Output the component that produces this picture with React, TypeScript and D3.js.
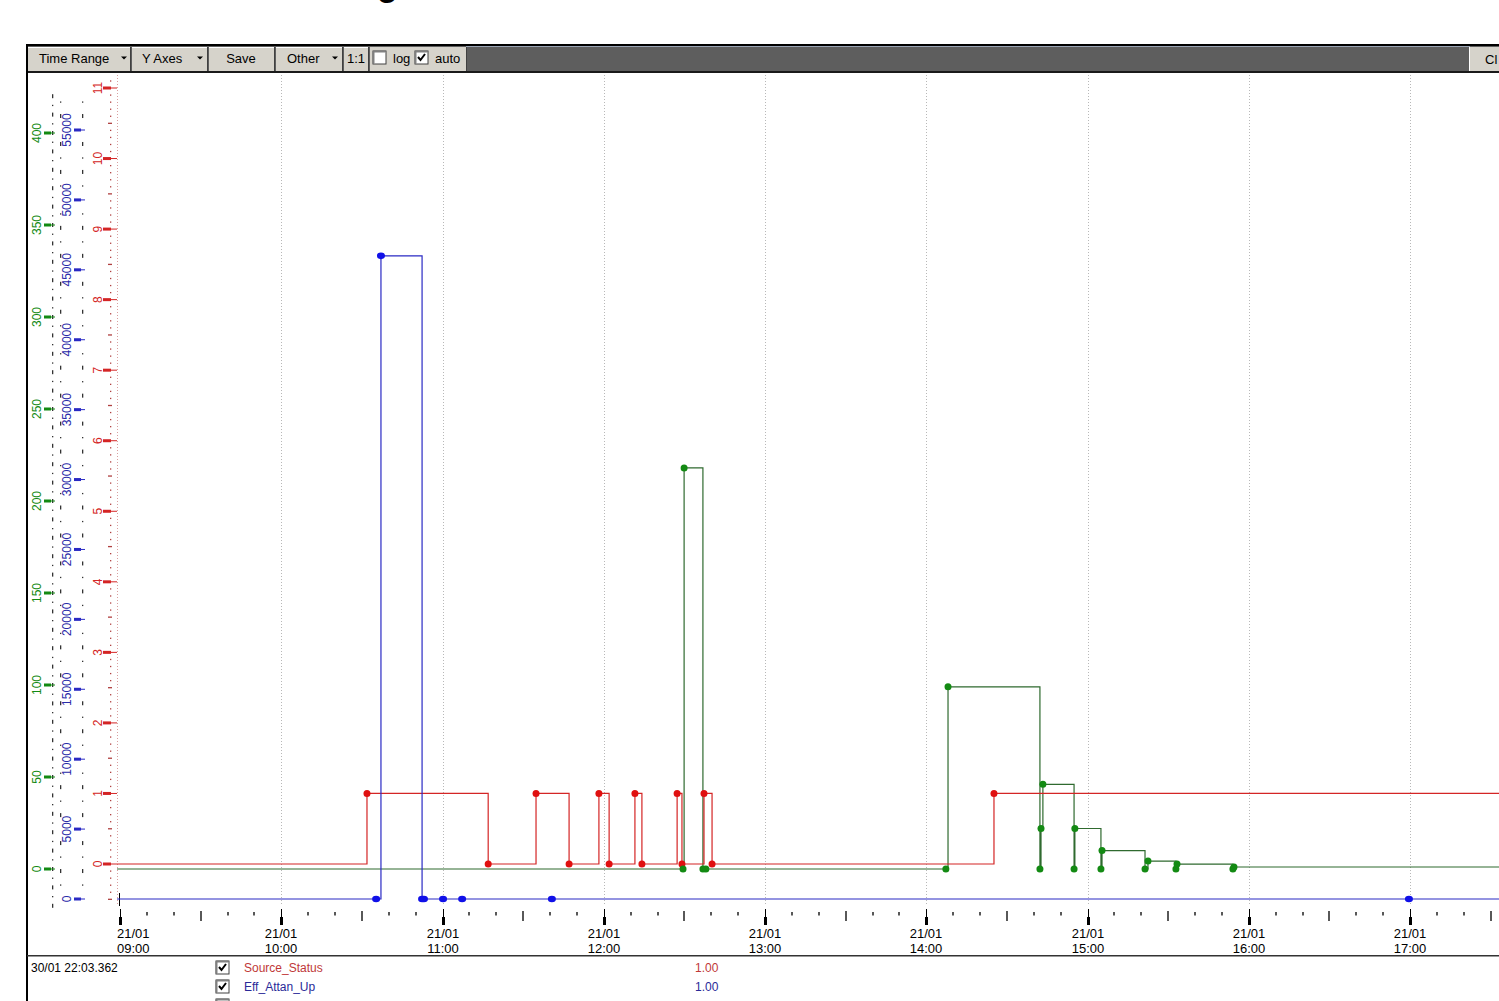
import React from 'react';
import * as d3 from 'd3';

const W = 1499;
const H = 1001;

// ---------- data ----------
const dateLabel = '21/01';
const hourTicks = ['09:00', '10:00', '11:00', '12:00', '13:00', '14:00', '15:00', '16:00', '17:00'];

const sourceStatusTimes = ['08:50:00', '10:31:54', '11:17:00', '11:34:48', '11:47:06', '11:58:12', '12:02:00', '12:11:36', '12:14:12', '12:27:18', '12:29:06', '12:37:18', '12:40:18', '14:25:12', '18:00:00'];
const sourceStatusValues = [0, 1, 0, 1, 0, 1, 0, 1, 0, 1, 0, 1, 0, 1, 1];

const effAttanUpTimes = ['08:50:00', '10:35:18', '10:37:06', '10:52:24', '10:53:06', '11:00:12', '11:07:18', '11:40:42', '16:59:36', '18:00:00'];
const effAttanUpValues = [0, 0, 46000, 0, 0, 0, 0, 0, 0, 0];

const effAttanDnTimes = ['08:50:00', '12:29:30', '12:29:54', '12:36:54', '12:38:00', '14:07:18', '14:08:06', '14:42:18', '14:42:42', '14:43:24', '14:55:00', '14:55:18', '15:05:00', '15:05:24', '15:21:24', '15:22:30', '15:32:54', '15:33:18', '15:54:06', '15:54:30', '18:00:00'];
const effAttanDnValues = [0, 0, 218, 0, 0, 0, 99, 0, 22, 46, 0, 22, 0, 10, 0, 4.3, 0, 2.7, 0, 1.1, 1.1];

const greenAxisTicks = [0, 50, 100, 150, 200, 250, 300, 350, 400];
const blueAxisTicks = [0, 5000, 10000, 15000, 20000, 25000, 30000, 35000, 40000, 45000, 50000, 55000];
const redAxisTicks = [0, 1, 2, 3, 4, 5, 6, 7, 8, 9, 10, 11];

const legendNames = ['Source_Status', 'Eff_Attan_Up'];
const legendValues = ['1.00', '1.00'];
const legendTimestamp = '30/01 22:03.362';

const toolbarItems = ['Time Range', 'Y Axes', 'Save', 'Other', '1:1'];

// ---------- styles ----------
const RED = '#d42525';
const BLUE = '#2a2ac4';
const GREEN = '#138a13';
const GREEN_LINE = '#2f6a2f';
const FONT = 'Tahoma, "DejaVu Sans", "Liberation Sans", Arial, sans-serif';
const FONT2 = '"Liberation Sans", Arial, sans-serif';

const parse = d3.timeParse('%H:%M:%S');
const parseHM = d3.timeParse('%H:%M');

const PLOT_L = 117;
const PLOT_T = 74;
const PLOT_B = 906;

const x = d3.scaleTime()
  .domain([parseHM('09:00') as Date, parseHM('17:00') as Date])
  .range([120, 1410]);
const yGreen = d3.scaleLinear().domain([0, 400]).range([869, 133]);
const yBlue = d3.scaleLinear().domain([0, 55000]).range([899, 130]);
const yRed = d3.scaleLinear().domain([0, 11]).range([864, 88]);

type Pt = { t: Date; v: number };
const mk = (ts: string[], vs: number[]): Pt[] => ts.map((t, i) => ({ t: parse(t) as Date, v: vs[i] }));

const redData = mk(sourceStatusTimes, sourceStatusValues);
const blueData = mk(effAttanUpTimes, effAttanUpValues);
const greenData = mk(effAttanDnTimes, effAttanDnValues);

function stepPath(data: Pt[], y: d3.ScaleLinear<number, number>) {
  return d3.line<Pt>().x(d => x(d.t)).y(d => y(d.v)).curve(d3.curveStepAfter)(data) || '';
}

function Checkbox({ x0, y0, checked }: { x0: number; y0: number; checked: boolean }) {
  return (
    <g>
      <rect x={x0} y={y0} width={13} height={13} fill="#fff" stroke="#404040" strokeWidth={1} />
      <line x1={x0 + 0.5} y1={y0 + 0.5} x2={x0 + 12.5} y2={y0 + 0.5} stroke="#808080" strokeWidth={2} />
      <line x1={x0 + 0.5} y1={y0 + 0.5} x2={x0 + 0.5} y2={y0 + 12.5} stroke="#808080" strokeWidth={2} />
      {checked && (
        <path d={`M${x0 + 3},${y0 + 6} L${x0 + 5.5},${y0 + 9} L${x0 + 10},${y0 + 3}`} fill="none" stroke="#000" strokeWidth={2} />
      )}
    </g>
  );
}

function Arrow({ cx, cy }: { cx: number; cy: number }) {
  return <path d={`M${cx - 3},${cy - 1.5} L${cx + 3},${cy - 1.5} L${cx},${cy + 1.5} Z`} fill="#000" />;
}

export default function App() {
  const hours = hourTicks.map(h => parseHM(h) as Date);
  const minorTimes = d3.timeMinute.every(10)!.range(parseHM('08:50') as Date, parseHM('18:00') as Date)
    .filter(d => d.getMinutes() !== 0);

  const greenMinor = d3.range(-20, 425, 5).map(v => ({ y: yGreen(v), big: v % 10 === 0 })).filter(d => d.y > 78 && d.y < 906 && (d.y - yGreen(Math.round(d.y))) !== 0);
  const blueMinor = d3.range(-1000, 58000, 1000).map(v => ({ y: yBlue(v), big: v % 2000 === 0, major: v % 5000 === 0 })).filter(d => d.y > 78 && d.y < 906 && !d.major);
  const redMinor = d3.range(-5, 116, 1).map(v => ({ y: yRed(v / 10), v })).filter(d => d.y > 78 && d.y < 906);

  const btnX = [28, 132, 209, 276, 344];
  const btnW = [102, 75, 65, 66, 24];

  return (
    <svg width={W} height={H} style={{ position: 'absolute', left: 0, top: 0, display: 'block', background: '#fff' }} fontFamily={FONT2}>
      <defs>
        <clipPath id="plotClip">
          <rect x={PLOT_L} y={PLOT_T} width={W - PLOT_L} height={PLOT_B - PLOT_T} />
        </clipPath>
      </defs>
      <rect x={0} y={0} width={W} height={H} fill="#fff" />

      {/* cut-off title descender */}
      <text x={377} y={-4} fontSize={34} fontWeight="bold" fill="#000">g</text>

      {/* frame */}
      <rect x={27} y={44} width={W - 27} height={2} fill="#000" />
      <rect x={27} y={46} width={W - 27} height={26} fill="#5e5e5e" />
      <rect x={466} y={46} width={1004} height={1} fill="#9aa4b4" />
      <rect x={27} y={71} width={W - 27} height={2} fill="#1a1a1a" />
      <rect x={26} y={44} width={2} height={H - 44} fill="#000" />

      {/* toolbar buttons */}
      {btnX.map((bx, i) => (
        <g key={i}>
          <rect x={bx} y={47} width={btnW[i]} height={24} fill="#d6d3cb" />
          <line x1={bx} y1={47.5} x2={bx + btnW[i]} y2={47.5} stroke="#fff" />
          <line x1={bx + btnW[i] + 0.5} y1={47} x2={bx + btnW[i] + 0.5} y2={71} stroke="#404040" />
        </g>
      ))}
      <rect x={370} y={47} width={96} height={24} fill="#d6d3cb" />
      <line x1={466.5} y1={47} x2={466.5} y2={71} stroke="#404040" />
      <text x={39} y={63} fontSize={13}>{toolbarItems[0]}</text>
      <Arrow cx={124} cy={58} />
      <text x={142} y={63} fontSize={13}>{toolbarItems[1]}</text>
      <Arrow cx={200} cy={58} />
      <text x={241} y={63} fontSize={13} textAnchor="middle">{toolbarItems[2]}</text>
      <text x={287} y={63} fontSize={13}>{toolbarItems[3]}</text>
      <Arrow cx={335} cy={58} />
      <text x={347} y={63} fontSize={13}>{toolbarItems[4]}</text>
      <Checkbox x0={373} y0={51} checked={false} />
      <text x={393} y={63} fontSize={13}>log</text>
      <Checkbox x0={415} y0={51} checked={true} />
      <text x={435} y={63} fontSize={13}>auto</text>
      <rect x={1470} y={47} width={29} height={24} fill="#d6d3cb" />
      <line x1={1469.5} y1={47} x2={1469.5} y2={71} stroke="#fff" />
      <text x={1485} y={64} fontSize={13}>Cl</text>

      {/* left axes */}
      {greenMinor.map((d, i) => (
        <rect key={'gm' + i} x={52} y={d.y - (d.big ? 2 : 0.6)} width={1.3} height={d.big ? 4 : 1.3} fill="#333" />
      ))}
      {greenAxisTicks.map(v => (
        <g key={'g' + v}>
          <rect x={44} y={yGreen(v) - 1.5} width={7} height={3} fill={GREEN} />
          <line x1={44} y1={yGreen(v)} x2={55} y2={yGreen(v)} stroke={GREEN} strokeWidth={1} />
          <text transform={`translate(${37},${yGreen(v)}) rotate(-90)`} textAnchor="middle" dy="0.35em" fontSize={12} fill={GREEN}>{v}</text>
        </g>
      ))}
      {blueMinor.map((d, i) => (
        <g key={'bm' + i}>
          <rect x={60} y={d.y - (d.big ? 2 : 0.6)} width={1.3} height={d.big ? 4 : 1.3} fill="#333" />
          <rect x={82} y={d.y - (d.big ? 2 : 0.6)} width={1.3} height={d.big ? 4 : 1.3} fill="#333" />
        </g>
      ))}
      {blueAxisTicks.map(v => (
        <g key={'b' + v}>
          <rect x={74} y={yBlue(v) - 1.5} width={7} height={3} fill={BLUE} />
          <line x1={74} y1={yBlue(v)} x2={85} y2={yBlue(v)} stroke={BLUE} strokeWidth={1} />
          <text transform={`translate(${67},${yBlue(v)}) rotate(-90)`} textAnchor="middle" dy="0.35em" fontSize={12} fill="#2a2aa8">{v}</text>
        </g>
      ))}
      {redMinor.map((d, i) => (
        d.v % 10 === 0 ? null :
          <rect key={'rm' + i} x={d.v % 5 === 0 ? 108 : 110} y={d.y - 0.6} width={d.v % 5 === 0 ? 4 : 1.3} height={1.3} fill="#b04040" />
      ))}
      {redAxisTicks.map(v => (
        <g key={'r' + v}>
          <rect x={103} y={yRed(v) - 1.5} width={8} height={3} fill={RED} />
          <line x1={103} y1={yRed(v)} x2={117} y2={yRed(v)} stroke={RED} strokeWidth={1} />
          <text transform={`translate(${98},${yRed(v)}) rotate(-90)`} textAnchor="middle" dy="0.35em" fontSize={12} fill={RED}>{v}</text>
        </g>
      ))}
      <line x1={117.5} y1={75} x2={117.5} y2={906} stroke="#d8a0a0" strokeDasharray="1,2" />
      <line x1={119.5} y1={893} x2={119.5} y2={906} stroke="#000" />

      {/* vertical hour grid */}
      {hours.slice(1).map((h, i) => (
        <line key={'gr' + i} x1={Math.round(x(h)) + 0.5} y1={75} x2={Math.round(x(h)) + 0.5} y2={906} stroke="#b8b8b8" strokeDasharray="1,2" />
      ))}

      {/* series */}
      <g clipPath="url(#plotClip)">
        <path d={stepPath(greenData, yGreen)} fill="none" stroke={GREEN_LINE} strokeWidth={1.2} />
        <path d={stepPath(redData, yRed)} fill="none" stroke={RED} strokeWidth={1.2} />
        <path d={stepPath(blueData, yBlue)} fill="none" stroke={BLUE} strokeWidth={1.2} />
        {redData.map((d, i) => <circle key={'rc' + i} cx={x(d.t)} cy={yRed(d.v)} r={3.5} fill="#e01010" />)}
        {blueData.map((d, i) => <ellipse key={'bc' + i} cx={x(d.t)} cy={yBlue(d.v)} rx={4} ry={3.3} fill="#1010e8" />)}
        {greenData.map((d, i) => <circle key={'gc' + i} cx={x(d.t)} cy={yGreen(d.v)} r={3.5} fill={GREEN} />)}
      </g>

      {/* time axis */}
      {minorTimes.map((t, i) => {
        const xx = Math.round(x(t));
        if (xx < 118 || xx > W) return null;
        const half = t.getMinutes() === 30;
        return <rect key={'mt' + i} x={xx - 0.75} y={half ? 911 : 912} width={1.5} height={half ? 10 : 3.5} fill="#222" />;
      })}
      {hours.map((h, i) => {
        const xx = Math.round(x(h));
        return (
          <g key={'h' + i}>
            <line x1={xx + 0.5} y1={909} x2={xx + 0.5} y2={918} stroke="#000" />
            <rect x={xx - 1} y={917} width={3} height={8} fill="#000" />
            <text x={i === 0 ? 117 : xx} y={938} fontSize={13} textAnchor={i === 0 ? 'start' : 'middle'}>{dateLabel}</text>
            <text x={i === 0 ? 117 : xx} y={953} fontSize={13} textAnchor={i === 0 ? 'start' : 'middle'}>{hourTicks[i]}</text>
          </g>
        );
      })}
      <rect x={27} y={955} width={W - 27} height={1.5} fill="#333" />

      {/* legend */}
      <text x={31} y={972} fontSize={12}>{legendTimestamp}</text>
      {legendNames.map((n, i) => (
        <g key={'lg' + i}>
          <Checkbox x0={216} y0={961 + i * 19} checked={true} />
          <text x={244} y={972 + i * 19} fontSize={12} fill={i === 0 ? '#c03838' : '#2a2a98'}>{n}</text>
          <text x={695} y={972 + i * 19} fontSize={12} fill={i === 0 ? '#c03838' : '#2a2a98'}>{legendValues[i]}</text>
        </g>
      ))}
      <Checkbox x0={216} y0={999} checked={true} />
    </svg>
  );
}
